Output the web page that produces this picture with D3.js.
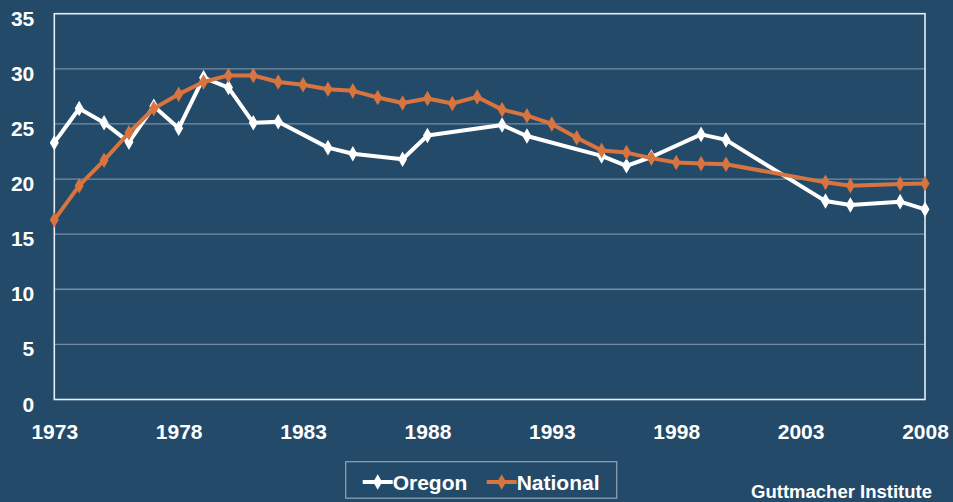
<!DOCTYPE html>
<html>
<head>
<meta charset="utf-8">
<script src="https://cdn.jsdelivr.net/npm/d3@7"></script>
<style>
  html, body { margin: 0; padding: 0; background: #244a6a; }
  svg { display: block; }
  text { font-family: "Liberation Sans", Arial, Helvetica, sans-serif; font-weight: bold; fill: #ffffff; }
</style>
</head>
<body>
<svg id="chart" width="953" height="502"></svg>
<script>
// Pregnancy rate series, Oregon vs. national
const oregonYears = [1973, 1974, 1975, 1976, 1977, 1978, 1979, 1980, 1981, 1982, 1984, 1985, 1987, 1988, 1991, 1992, 1995, 1996, 1997, 1999, 2000, 2004, 2005, 2007, 2008];
const oregonValues = [23.3, 26.4, 25.1, 23.35, 26.6, 24.6, 29.2, 28.3, 25.1, 25.2, 22.85, 22.3, 21.8, 23.95, 24.9, 23.9, 22.1, 21.2, 22.0, 24.05, 23.55, 18.0, 17.65, 17.95, 17.25];

const nationalYears = [1973, 1974, 1975, 1976, 1977, 1978, 1979, 1980, 1981, 1982, 1983, 1984, 1985, 1986, 1987, 1988, 1989, 1990, 1991, 1992, 1993, 1994, 1995, 1996, 1997, 1998, 1999, 2000, 2004, 2005, 2007, 2008];
const nationalValues = [16.3, 19.4, 21.7, 24.2, 26.4, 27.7, 28.8, 29.4, 29.4, 28.8, 28.55, 28.15, 28.0, 27.4, 26.9, 27.3, 26.85, 27.45, 26.3, 25.75, 25.0, 23.75, 22.6, 22.4, 21.9, 21.5, 21.4, 21.35, 19.7, 19.4, 19.55, 19.6];

const xTickYears = [1973, 1978, 1983, 1988, 1993, 1998, 2003, 2008];
const yTickValues = [0, 5, 10, 15, 20, 25, 30, 35];

const seriesNames = ["Oregon", "National"];
const seriesColors = ["#ffffff", "#d8743f"];
const sourceText = "Guttmacher Institute";

const svg = d3.select("#chart");
const plotLeft = 54.3, plotRight = 925, plotTop = 13.7, plotBottom = 399.5;

const x = d3.scaleLinear().domain([1973, 2008]).range([plotLeft, plotRight]);
const y = d3.scaleLinear().domain([0, 35]).range([plotBottom, plotTop]);

// horizontal gridlines
svg.append("g")
  .selectAll("line")
  .data(yTickValues.filter(v => v > 0 && v < 35))
  .join("line")
  .attr("x1", plotLeft).attr("x2", plotRight)
  .attr("y1", d => y(d)).attr("y2", d => y(d))
  .attr("stroke", "#8fa5ba")
  .attr("stroke-opacity", 0.75)
  .attr("stroke-width", 1.3);

// plot frame
svg.append("rect")
  .attr("x", plotLeft).attr("y", plotTop)
  .attr("width", plotRight - plotLeft).attr("height", plotBottom - plotTop)
  .attr("fill", "none")
  .attr("stroke", "#e8edf2")
  .attr("stroke-width", 1.6);

// y axis labels
const yAxis = d3.axisLeft(y).tickValues(yTickValues).tickSize(0).tickPadding(20);
const gy = svg.append("g").attr("transform", `translate(${plotLeft},0)`).call(yAxis);
gy.select(".domain").remove();
gy.selectAll("text")
  .attr("font-size", 21)
  .attr("dy", "0.55em")
  .attr("fill", "#ffffff")
  .style("font-family", '"Liberation Sans", Arial, sans-serif')
  .style("font-weight", "bold");

// x axis labels
const xAxis = d3.axisBottom(x).tickValues(xTickYears).tickFormat(d3.format("d")).tickSize(0).tickPadding(25);
const gx = svg.append("g").attr("transform", `translate(0,${plotBottom})`).call(xAxis);
gx.select(".domain").remove();
gx.selectAll("text")
  .attr("font-size", 21)
  .attr("fill", "#ffffff")
  .style("font-family", '"Liberation Sans", Arial, sans-serif')
  .style("font-weight", "bold");

const diamond = d3.symbol().type(d3.symbolDiamond).size(70);

function drawSeries(years, values, color) {
  const pts = years.map((yr, i) => [yr, values[i]]);
  const line = d3.line().x(d => x(d[0])).y(d => y(d[1]));
  const g = svg.append("g");
  g.append("path")
    .datum(pts)
    .attr("d", line)
    .attr("fill", "none")
    .attr("stroke", color)
    .attr("stroke-width", 4)
    .attr("stroke-linejoin", "round");
  g.selectAll("path.pt")
    .data(pts)
    .join("path")
    .attr("class", "pt")
    .attr("d", diamond)
    .attr("transform", d => `translate(${x(d[0])},${y(d[1])})`)
    .attr("fill", color);
}

drawSeries(oregonYears, oregonValues, seriesColors[0]);
drawSeries(nationalYears, nationalValues, seriesColors[1]);

// legend
const legend = svg.append("g");
legend.append("rect")
  .attr("x", 345.7).attr("y", 461.7)
  .attr("width", 271).attr("height", 36.5)
  .attr("fill", "none")
  .attr("stroke", "#8fa5ba")
  .attr("stroke-width", 1.2);

const legendItems = [
  { name: seriesNames[0], color: seriesColors[0], x0: 362.7 },
  { name: seriesNames[1], color: seriesColors[1], x0: 486.7 }
];
legendItems.forEach(it => {
  legend.append("line")
    .attr("x1", it.x0).attr("x2", it.x0 + 30)
    .attr("y1", 482).attr("y2", 482)
    .attr("stroke", it.color).attr("stroke-width", 4);
  legend.append("path")
    .attr("d", diamond)
    .attr("transform", `translate(${it.x0 + 15},482)`)
    .attr("fill", it.color);
  legend.append("text")
    .attr("x", it.x0 + 30).attr("y", 482)
    .attr("dy", "0.36em")
    .attr("font-size", 21)
    .text(it.name);
});

// source note
svg.append("text")
  .attr("x", 932).attr("y", 498)
  .attr("text-anchor", "end")
  .attr("font-size", 18.5)
  .text(sourceText);
</script>
</body>
</html>
